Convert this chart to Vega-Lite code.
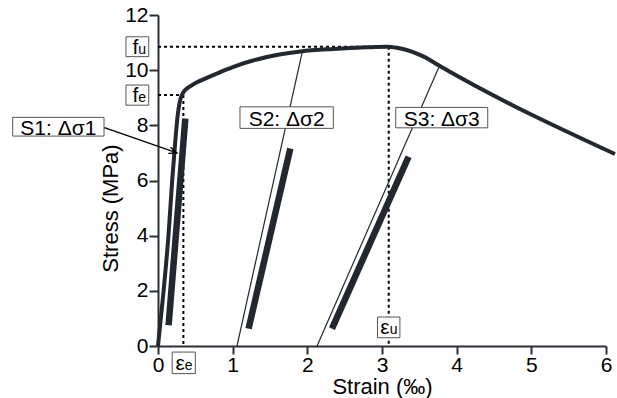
{
  "$schema": "https://vega.github.io/schema/vega-lite/v6.json",
  "autosize": {"type": "none"},
  "width": 448,
  "height": 331,
  "padding": {"left": 158, "top": 15, "right": 11, "bottom": 52},
  "background": "white",
  "config": {
    "view": {"stroke": null},
    "font": "Liberation Sans",
    "axis": {
      "domainColor": "#2b2f38", "domainWidth": 2, "tickColor": "#2b2f38", "tickWidth": 2,
      "labelFont": "Liberation Sans", "labelFontSize": 21, "labelColor": "black",
      "titleFont": "Liberation Sans", "titleFontSize": 22, "titleFontWeight": "normal", "titleColor": "black",
      "grid": false
    }
  },
  "datasets": {
    "curve": [
      {"x": 0, "y": 0}, {"x": 0.075, "y": 2}, {"x": 0.14, "y": 4}, {"x": 0.19, "y": 6},
      {"x": 0.225, "y": 7.2}, {"x": 0.25, "y": 8}, {"x": 0.27, "y": 8.5}, {"x": 0.3, "y": 8.95},
      {"x": 0.34, "y": 9.2}, {"x": 0.4, "y": 9.36}, {"x": 0.48, "y": 9.5}, {"x": 0.57, "y": 9.62},
      {"x": 0.79, "y": 9.88}, {"x": 1.01, "y": 10.12}, {"x": 1.46, "y": 10.48}, {"x": 1.91, "y": 10.68},
      {"x": 2.35, "y": 10.77}, {"x": 2.8, "y": 10.83}, {"x": 3.07, "y": 10.85}, {"x": 3.2, "y": 10.81},
      {"x": 3.33, "y": 10.73}, {"x": 3.45, "y": 10.62}, {"x": 3.56, "y": 10.49}, {"x": 3.78, "y": 10.14},
      {"x": 6.12, "y": 6.96}
    ],
    "thin": [
      {"s": "S2", "x": 1.058, "y": 0, "x2": 1.93, "y2": 10.64},
      {"s": "S3", "x": 2.13, "y": 0, "x2": 3.76, "y2": 10.1}
    ],
    "bars": [
      {"s": "S1", "x": 0.142, "y": 0.75, "x2": 0.366, "y2": 8.25},
      {"s": "S2", "x": 1.213, "y": 0.63, "x2": 1.772, "y2": 7.16},
      {"s": "S3", "x": 2.33, "y": 0.63, "x2": 3.356, "y2": 6.86}
    ],
    "dashed": [
      {"x": 0, "y": 10.85, "x2": 3.09, "y2": 10.85},
      {"x": 3.09, "y": 10.85, "x2": 3.09, "y2": 0},
      {"x": 0, "y": 9.1, "x2": 0.34, "y2": 9.1},
      {"x": 0.34, "y": 9.1, "x2": 0.34, "y2": 0}
    ],
    "boxes": [
      {"label": "S1: Δσ1", "x": -1.946, "x2": -0.723, "y": 8.29, "y2": 7.61, "xc": -1.335, "yc": 7.95},
      {"label": "S2: Δσ2", "x": 1.098, "x2": 2.348, "y": 8.67, "y2": 7.89, "xc": 1.723, "yc": 8.28},
      {"label": "S3: Δσ3", "x": 3.184, "x2": 4.416, "y": 8.65, "y2": 7.91, "xc": 3.8, "yc": 8.28}
    ],
    "subboxes": [
      {"main": "f", "sub": "u", "x": -0.429, "x2": -0.124, "y": 11.21, "y2": 10.49, "xc": -0.2765, "yc": 10.85},
      {"main": "f", "sub": "e", "x": -0.429, "x2": -0.124, "y": 9.46, "y2": 8.73, "xc": -0.2765, "yc": 9.095},
      {"main": "ε", "sub": "e", "x": 0.19, "x2": 0.5, "y": -0.22, "y2": -1.0, "xc": 0.345, "yc": -0.61},
      {"main": "ε", "sub": "u", "x": 2.94, "x2": 3.24, "y": 1.05, "y2": 0.3, "xc": 3.09, "yc": 0.675}
    ],
    "arrow": [
      {"x": -0.718, "y": 7.92, "x2": 0.254, "y2": 7.0}
    ]
  },
  "layer": [
    {
      "data": {"name": "dashed"},
      "mark": {"type": "rule", "color": "black", "strokeWidth": 2, "strokeDash": [3, 3]},
      "encoding": {
        "x": {"field": "x", "type": "quantitative", "scale": {"domain": [0, 6], "nice": false, "zero": false},
          "title": "Strain (‰)",
          "axis": {"values": [0, 0.5, 1, 1.5, 2, 2.5, 3, 3.5, 4, 4.5, 5, 5.5, 6],
            "labelExpr": "datum.value % 1 === 0 ? format(datum.value, 'd') : ''",
            "tickSize": {"condition": {"test": "datum.value % 1 !== 0", "value": 5}, "value": 8},
            "labelPadding": 0, "titlePadding": 1, "labelFlush": false, "labelOverlap": false}},
        "y": {"field": "y", "type": "quantitative", "scale": {"domain": [0, 12], "nice": false, "zero": false},
          "title": "Stress (MPa)",
          "axis": {"values": [0, 1, 2, 3, 4, 5, 6, 7, 8, 9, 10, 11, 12],
            "labelExpr": "datum.value % 2 === 0 ? format(datum.value, 'd') : ''",
            "tickSize": {"condition": {"test": "datum.value % 2 !== 0", "value": 4}, "value": 9},
            "labelPadding": 1, "titlePadding": 2, "titleY": 193, "labelFlush": false, "labelOverlap": false}},
        "x2": {"field": "x2"},
        "y2": {"field": "y2"}
      }
    },
    {
      "data": {"name": "thin"},
      "mark": {"type": "rule", "color": "#23272f", "strokeWidth": 1.2},
      "encoding": {
        "x": {"field": "x", "type": "quantitative"},
        "y": {"field": "y", "type": "quantitative"},
        "x2": {"field": "x2"},
        "y2": {"field": "y2"}
      }
    },
    {
      "data": {"name": "bars"},
      "mark": {"type": "rule", "color": "#23272f", "strokeWidth": 6.5, "strokeCap": "butt"},
      "encoding": {
        "x": {"field": "x", "type": "quantitative"},
        "y": {"field": "y", "type": "quantitative"},
        "x2": {"field": "x2"},
        "y2": {"field": "y2"}
      }
    },
    {
      "data": {"name": "curve"},
      "mark": {"type": "line", "color": "#23272f", "strokeWidth": 4, "interpolate": "monotone", "clip": false},
      "encoding": {
        "x": {"field": "x", "type": "quantitative"},
        "y": {"field": "y", "type": "quantitative"}
      }
    },
    {
      "data": {"name": "boxes"},
      "mark": {"type": "rect", "fill": "white", "stroke": "#555555", "strokeWidth": 1},
      "encoding": {
        "x": {"field": "x", "type": "quantitative"},
        "y": {"field": "y", "type": "quantitative"},
        "x2": {"field": "x2"},
        "y2": {"field": "y2"}
      }
    },
    {
      "data": {"name": "boxes"},
      "mark": {"type": "text", "fontSize": 21, "color": "black", "align": "center", "baseline": "alphabetic", "dy": 8},
      "encoding": {
        "x": {"field": "xc", "type": "quantitative"},
        "y": {"field": "yc", "type": "quantitative"},
        "text": {"field": "label"}
      }
    },
    {
      "data": {"name": "subboxes"},
      "mark": {"type": "rect", "fill": "white", "stroke": "#555555", "strokeWidth": 1},
      "encoding": {
        "x": {"field": "x", "type": "quantitative"},
        "y": {"field": "y", "type": "quantitative"},
        "x2": {"field": "x2"},
        "y2": {"field": "y2"}
      }
    },
    {
      "data": {"name": "subboxes"},
      "mark": {"type": "text", "fontSize": 21, "color": "black", "align": "right", "baseline": "alphabetic", "dx": 1, "dy": 7},
      "encoding": {
        "x": {"field": "xc", "type": "quantitative"},
        "y": {"field": "yc", "type": "quantitative"},
        "text": {"field": "main"}
      }
    },
    {
      "data": {"name": "subboxes"},
      "mark": {"type": "text", "fontSize": 14, "color": "black", "align": "left", "baseline": "alphabetic", "dx": 1, "dy": 7},
      "encoding": {
        "x": {"field": "xc", "type": "quantitative"},
        "y": {"field": "yc", "type": "quantitative"},
        "text": {"field": "sub"}
      }
    },
    {
      "data": {"name": "arrow"},
      "mark": {"type": "rule", "color": "black", "strokeWidth": 1.3},
      "encoding": {
        "x": {"field": "x", "type": "quantitative"},
        "y": {"field": "y", "type": "quantitative"},
        "x2": {"field": "x2"},
        "y2": {"field": "y2"}
      }
    },
    {
      "data": {"name": "arrow"},
      "mark": {"type": "point", "shape": "M-2,-0.8 L0,0 L-2,0.8", "filled": false, "color": "black", "strokeWidth": 1.3, "size": 64, "angle": 19.3, "opacity": 1},
      "encoding": {
        "x": {"field": "x2", "type": "quantitative"},
        "y": {"field": "y2", "type": "quantitative"}
      }
    }
  ]
}
